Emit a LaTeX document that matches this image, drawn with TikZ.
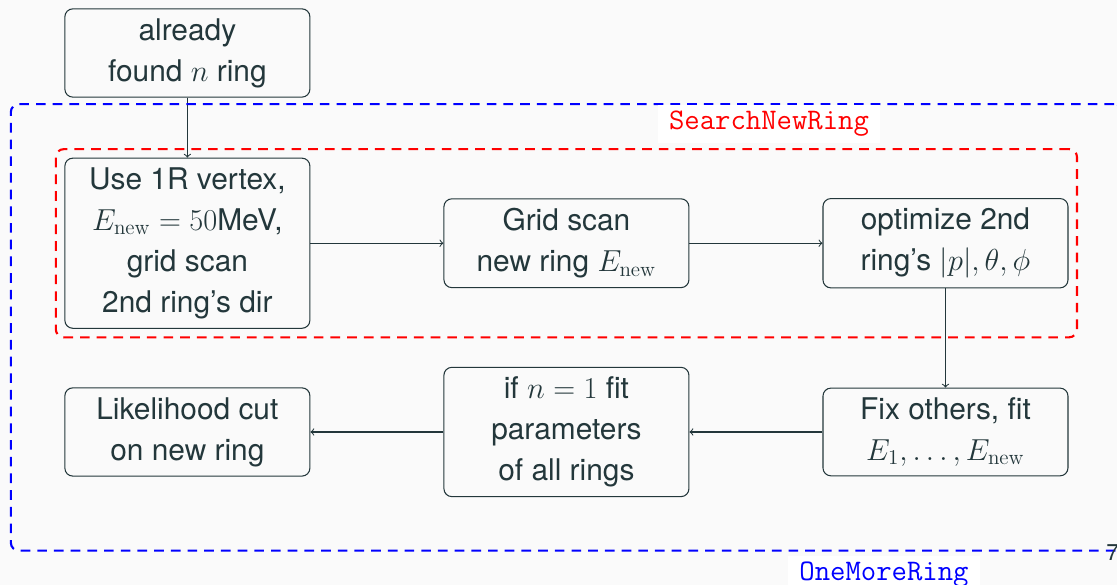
\documentclass[tikz,border=0pt]{standalone}
\usepackage[no-math]{fontspec}
\setmainfont{TeX Gyre Heros}
\usetikzlibrary{matrix, fit}

\definecolor{slate}{HTML}{23373B}
\definecolor{slidebg}{HTML}{FAFAFA}

\tikzset{
  stepbox/.style={draw=slate, text=slate, rounded corners=4.5pt, line width=0.6pt,
    minimum width=4.9cm, align=center, inner ysep=0.19cm, anchor=center,
    font=\fontsize{17pt}{23.3pt}\selectfont},
  flow/.style={->, draw=slate, line width=0.6pt},
  group/.style={rounded corners=4.5pt, line width=1.2pt, dash pattern=on 5.5pt off 4pt},
  tag/.style={fill=white, font=\fontsize{17pt}{20pt}\ttfamily,
    inner xsep=0.22cm, inner ysep=0.13cm},
}

\begin{document}
\begin{tikzpicture}
  \fill[slidebg] (0,0) rectangle (22.34,11.70);
  \useasboundingbox (0,0) rectangle (22.34,11.70);

  \matrix (m) [anchor=north west, inner sep=0pt, column sep=2.66cm, row sep=0.76cm] at (1.28,11.54) {
    \node[stepbox] (found) {already\\ found $n$ ring}; & & \\[0.44cm]
    \node[stepbox] (seed) {Use 1R vertex,\\ $E_{\rm new}=50$MeV,\\ grid scan\\ 2nd ring's dir}; &
    \node[stepbox] (scan) {Grid scan\\ new ring $E_{\rm new}$}; &
    \node[stepbox] (optim) {optimize 2nd\\ ring's $|p|,\theta,\phi$}; \\
    \node[stepbox] (lhcut) {Likelihood cut\\ on new ring}; &
    \node[stepbox] (allfit) {if $n=1$ fit\\ parameters\\ of all rings}; &
    \node[stepbox] (fixfit) {Fix others, fit\\ $E_1,\dots,E_{\rm new}$}; \\
  };

  \draw[flow] (found) -- (seed);
  \draw[flow] (seed) -- (scan);
  \draw[flow] (scan) -- (optim);
  \draw[flow] (optim) -- (fixfit);
  \draw[flow] (fixfit) -- (allfit);
  \draw[flow] (allfit) -- (lhcut);

  % the two loops around the steps
  \node[group, draw=red, fit=(seed)(scan)(optim), inner sep=0.17cm] (searchbox) {};
  \node[group, draw=blue, fit=(seed)(optim)(lhcut)(allfit)(fixfit), inner sep=1.07cm] (onemore) {};

  \node[tag, text=red] (searchtag) at (15.38,9.22) {SearchNewRing};
  \node[tag, text=blue] (onemoretag) at (17.68,0.2) {OneMoreRing};
  \node[text=slate, anchor=base west, inner sep=0pt, font=\fontsize{13pt}{15pt}\selectfont] (pagenum) at (22.12,0.48) {7};
\end{tikzpicture}
\end{document}
